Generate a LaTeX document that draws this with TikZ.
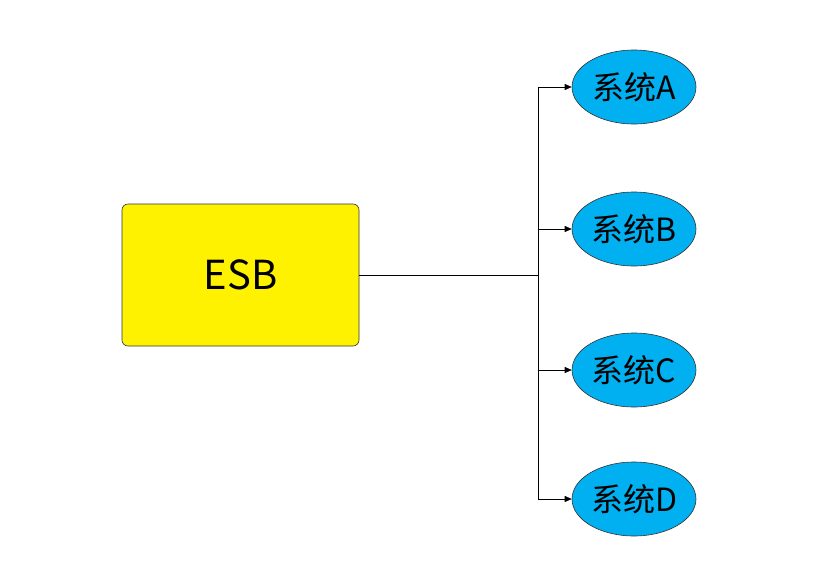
\documentclass[tikz,border=0pt]{standalone}
\usepackage{fontspec}
\setmainfont{Noto Sans CJK SC}
\usetikzlibrary{shapes.geometric,arrows.meta}
\definecolor{sysblue}{HTML}{00B0F0}
\tikzset{
  esbbox/.style={draw=black!80, fill=yellow, rounded corners=6pt, minimum width=237pt, minimum height=142pt, line width=0.6pt, font=\fontsize{40}{44}\selectfont, inner sep=0pt},
  sysnode/.style={ellipse, draw=black!80, fill=sysblue, minimum width=124pt, minimum height=74pt, line width=0.6pt, font=\fontsize{32}{36}\selectfont, inner sep=0pt},
  conn/.style={line width=0.6pt, -{Triangle[length=7pt,width=6pt]}}
}
\begin{document}
\begin{tikzpicture}[x=1pt,y=-1pt]
\useasboundingbox (0,0) rectangle (821,576);
\node[esbbox] (esb) at (240.5,275) {ESB};
\node[sysnode] (a) at (634,87) {系统A};
\node[sysnode] (b) at (634,229) {系统B};
\node[sysnode] (c) at (634,370) {系统C};
\node[sysnode] (d) at (634,499) {系统D};
\coordinate (j) at (538,275);
\draw[line width=0.6pt] (esb.east) -- (j);
\foreach \n in {a,b,c,d}{
  \draw[conn] (j) |- (\n.west);
}
\end{tikzpicture}
\end{document}
